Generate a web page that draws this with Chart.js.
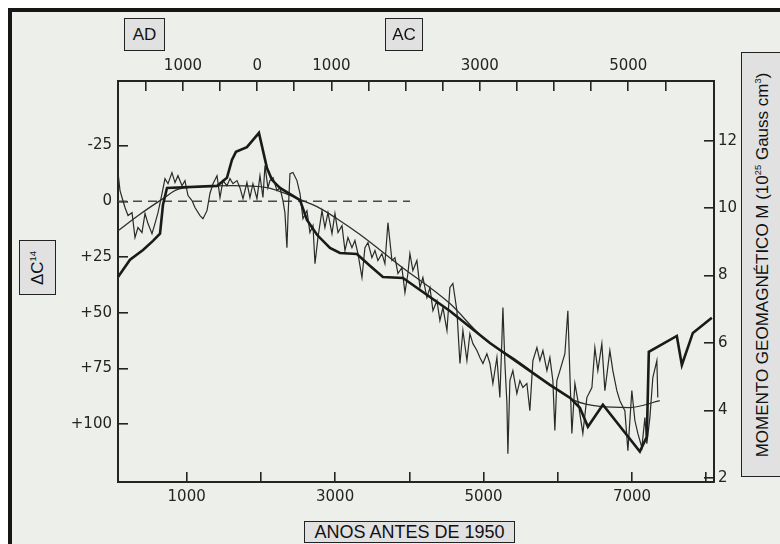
<!DOCTYPE html>
<html>
<head>
<meta charset="utf-8">
<script src="https://cdn.jsdelivr.net/npm/chart.js@4.4.0/dist/chart.umd.min.js"></script>
<style>
  html, body { margin: 0; padding: 0; background: #fff; }
  #wrap { position: relative; width: 780px; height: 544px; overflow: hidden; background: #fff; }
  #sheet { position: absolute; left: 8px; top: 8px; width: 820px; height: 600px; border: 4px solid #161616; background: #edefea; box-sizing: border-box; }
  #chart { position: absolute; left: 0; top: 0; }
  .tag { position: absolute; background: #e1e1e1; border: 1.5px solid #222; box-sizing: border-box;
         font-family: "Liberation Sans", Arial, sans-serif; color: #111; white-space: nowrap; }
  .tag > span { position: absolute; left: 50%; top: 50%; transform: translate(-50%, -50%); white-space: nowrap; }
  .tag > span.rot { transform: translate(-50%, -50%) rotate(-90deg); }
  sup { font-size: 55%; vertical-align: 0.75em; line-height: 0; }
</style>
</head>
<body>
<div id="wrap">
  <div id="sheet"></div>
  <canvas id="chart" width="780" height="544"></canvas>
  <div class="tag" style="left:124px;top:18px;width:41px;height:33px;font-size:17px;"><span>AD</span></div>
  <div class="tag" style="left:385px;top:18px;width:38px;height:33px;font-size:17px;"><span>AC</span></div>
  <div class="tag" style="left:19px;top:240px;width:37px;height:55px;font-size:17px;"><span class="rot">ΔC<sup>14</sup></span></div>
  <div class="tag" style="left:304px;top:521px;width:211px;height:22px;font-size:18px;"><span>ANOS ANTES DE 1950</span></div>
  <div class="tag" style="left:741px;top:52px;width:43px;height:425px;font-size:17px;"><span class="rot">MOMENTO GEOMAGNÉTICO M (10<sup>25</sup> Gauss cm<sup>3</sup>)</span></div>
</div>
<script>
// ΔC14 measurements (years BP, per mil)
const noisyBP = [75, 102, 129, 169, 210, 264, 304, 344, 398, 439, 479, 533, 573, 614, 668, 708, 749, 802, 843, 883,
  937, 977, 1018, 1072, 1112, 1180, 1220, 1274, 1314, 1355, 1409, 1449, 1489, 1543, 1584, 1624, 1678, 1718, 1759, 1812,
  1853, 1893, 1947, 1988, 2028, 2055, 2095, 2122, 2163, 2217, 2257, 2297, 2324, 2351, 2365, 2392, 2432, 2486, 2527, 2567,
  2621, 2661, 2702, 2729, 2769, 2823, 2863, 2904, 2958, 2998, 3039, 3093, 3133, 3173, 3227, 3267, 3308, 3362, 3402, 3443,
  3496, 3537, 3577, 3631, 3671, 3712, 3766, 3806, 3847, 3900, 3941, 3981, 4008, 4048, 4102, 4143, 4183, 4237, 4278, 4318,
  4372, 4412, 4453, 4507, 4547, 4587, 4641, 4682, 4722, 4776, 4816, 4857, 4911, 4951, 4992, 5045, 5086, 5126, 5180, 5220,
  5247, 5261, 5288, 5315, 5328, 5355, 5395, 5449, 5490, 5530, 5584, 5624, 5665, 5719, 5759, 5800, 5854, 5894, 5934, 5961,
  5988, 6029, 6096, 6136, 6163, 6190, 6231, 6271, 6338, 6392, 6460, 6500, 6540, 6594, 6635, 6702, 6742, 6796, 6837, 6904,
  6945, 6998, 7039, 7079, 7133, 7174, 7200, 7241, 7281, 7335, 7348];
const noisyC14 = [-13, -4.8, -1.7, 2.8, 6.4, 5.1, 16.3, 11.8, 14, 5.5, 10, 14.5, 10, 5.1, -3.5, -10.2, -7.9, -12.9, -8.4, -11.5,
  -7, -9.3, -2.6, -0.3, 2.8, 6.4, 7.8, 4.2, -3.5, -7.9, -11.5, -1.7, -9.3, -7, -10.2, -7.9, -9.3, -6.1, -1.2, -8.4,
  -1.7, -7.9, -1.2, -11.5, -1.7, -16, -6.1, -9.3, -10.6, -4.8, -6.1, -0.3, 5.1, 20.8, 7.3, -12.4, -12.9, -9.3, -3.5, 7.8,
  4.2, 14, 10.9, 28, 16.3, 4.2, 11.8, 5.1, 14.5, 5.5, 14, 10.9, 22.1, 16.3, 20.8, 17.6, 23.5, 34.2, 20.8, 18.5,
  25.3, 22.1, 26.6, 23.5, 28, 9.6, 26.6, 25.3, 32.4, 29.8, 41, 32.4, 23.5, 31.1, 26.6, 38.7, 34.2, 43.2, 38.7, 49.1,
  44.6, 53.5, 47.7, 58, 38.7, 36.9, 49.1, 72.8, 58, 71.5, 59.4, 63.9, 67, 70.1, 72.8, 68.4, 72.8, 81.8, 70.1, 88.1,
  62.5, 47.7, 72.8, 90.8, 113.3, 80.5, 76, 86.3, 80.5, 83.6, 81.8, 94, 71.5, 65.7, 71.5, 67, 76, 70.1, 80.5, 102.9,
  80.5, 76, 68.4, 49.1, 77.3, 104.2, 81.8, 89.5, 104.2, 88.1, 83.6, 65.7, 76, 63.9, 85, 67, 76, 85, 89.5, 94,
  111.9, 85, 98.4, 104.2, 110.5, 97.1, 108.8, 97.1, 79.1, 71.5, 88.1];

// smooth fit of ΔC14
const fitBP = [75, 371, 681, 870, 1180, 1624, 2082, 2297, 2527, 2756, 3025, 3335, 3874, 4547, 4992, 5449, 5894, 6231, 6567, 6971, 7375];
const fitC14 = [13.2, 5.8, -1.2, -5.2, -6.6, -7.0, -6.1, -3.9, -0.8, 2.4, 7.8, 14.9, 28.9, 45.9, 61.2, 71.5, 82.3, 89.5, 92.1, 92.6, 89.5];

// geomagnetic moment (10^25 gauss cm3)
const momentBP = [75, 237, 412, 546, 641, 681, 735, 1409, 1543, 1610, 1664, 1812, 1974, 2082, 2149, 2257, 2527, 2621, 2756, 2931,
  3065, 3294, 3469, 3644, 3914, 4547, 5086, 5894, 6163, 6298, 6406, 6608, 7106, 7200, 7227, 7604, 7672, 7820, 8076];
const momentM = [7.96, 8.47, 8.76, 9.03, 9.24, 10.1, 10.6, 10.66, 10.9, 11.43, 11.67, 11.81, 12.23, 11.19, 10.84, 10.6, 10.24, 9.65, 9.21, 8.82,
  8.67, 8.64, 8.29, 7.96, 7.93, 6.95, 6.0, 4.76, 4.38, 4.08, 3.52, 4.17, 2.78, 3.22, 5.74, 6.21, 5.35, 6.3, 6.75];

// ΔC14 = 0 reference
const zeroBP = [75, 4010];
const zeroC14 = [0, 0];

// axes
const bottomTicks = [1000, 2000, 3000, 4000, 5000, 6000, 7000, 8000];
const bottomLabels = [1000, 3000, 5000, 7000];
const topTicks = [-1500, -1000, -500, 0, 500, 1000, 1500, 2000, 2500, 3000, 3500, 4000, 4500, 5000, 5500];
const topLabels = [-1000, 0, 1000, 3000, 5000];
const leftTicks = [-25, 0, 25, 50, 75, 100];
const rightTicks = [2, 4, 6, 8, 10, 12];

const ink = '#242424';
const tickFont = { family: 'DejaVu Sans', size: 15 };
const pts = (xs, ys) => xs.map((x, i) => ({ x: x, y: ys[i] }));

function axis(list, size, pad, fmt, extra) {
  return Object.assign({
    type: 'linear',
    afterBuildTicks: s => { s.ticks = list.map(v => ({ value: v })); },
    afterFit: s => { if (s.isHorizontal()) s.height = size; else s.width = size; },
    ticks: { callback: fmt, color: ink, font: tickFont, padding: pad, autoSkip: false, maxRotation: 0, minRotation: 0 },
    grid: { drawOnChartArea: false, tickLength: -10, color: ink, lineWidth: 1.6 },
    border: { display: true, color: ink, width: 2 }
  }, extra);
}

new Chart(document.getElementById('chart'), {
  type: 'line',
  data: {
    datasets: [
      { data: pts(momentBP, momentM), yAxisID: 'y2', borderColor: '#1a1a1a', borderWidth: 2.6, pointRadius: 0, tension: 0 },
      { data: pts(noisyBP, noisyC14), yAxisID: 'y', borderColor: '#2a2a2a', borderWidth: 1.2, pointRadius: 0, tension: 0 },
      { data: pts(fitBP, fitC14), yAxisID: 'y', borderColor: '#2e2e2e', borderWidth: 1.3, pointRadius: 0, cubicInterpolationMode: 'monotone' },
      { data: pts(zeroBP, zeroC14), yAxisID: 'y', borderColor: '#4a4a4a', borderWidth: 1.4, borderDash: [9, 6], pointRadius: 0 }
    ]
  },
  options: {
    responsive: false,
    animation: false,
    devicePixelRatio: 1,
    layout: { padding: 0 },
    plugins: { legend: { display: false }, tooltip: { enabled: false } },
    scales: {
      x: axis(bottomTicks, 62, 16, v => bottomLabels.includes(v) ? String(v) : '', { position: 'bottom', min: 75, max: 8105 }),
      x2: axis(topTicks, 81, 16, v => topLabels.includes(v) ? String(Math.abs(v)) : '', { position: 'top', min: 75 - 1950, max: 8105 - 1950 }),
      y: axis(leftTicks, 118, 16, v => v > 0 ? '+' + v : String(v), { position: 'left', reverse: true, min: -54, max: 126 }),
      y2: axis(rightTicks, 66, 14, v => String(v), { position: 'right', min: 1.88, max: 13.77 })
    }
  }
});
</script>
</body>
</html>
